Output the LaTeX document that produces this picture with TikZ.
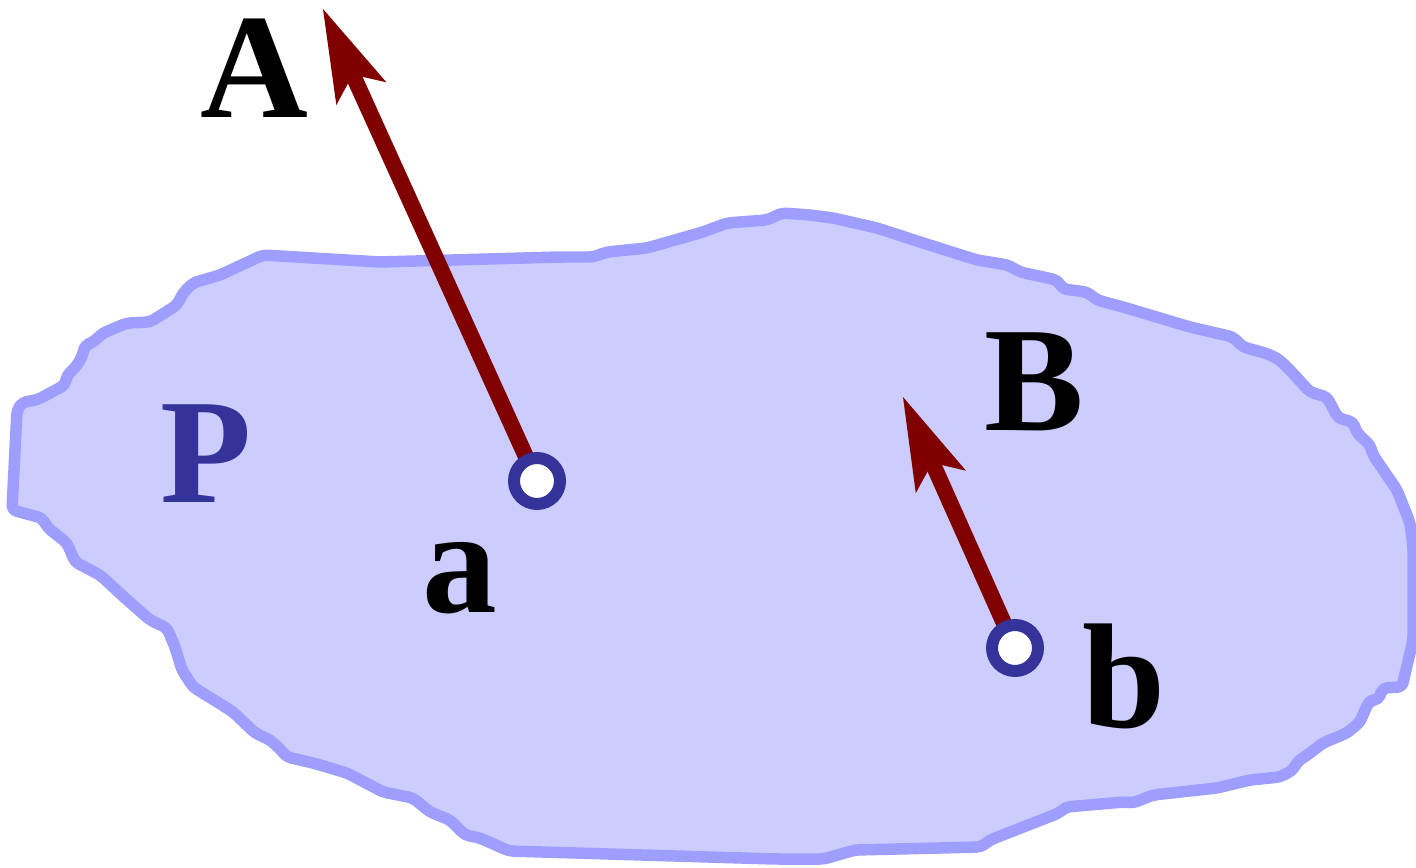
\documentclass[tikz,border=0pt]{standalone}
\usepackage{fontspec}
\setmainfont{Liberation Serif}
\usetikzlibrary{arrows.meta}
\definecolor{blobfill}{HTML}{CCCCFF}
\definecolor{blobline}{HTML}{9E9EFF}
\definecolor{vecred}{HTML}{800000}
\definecolor{ringblue}{HTML}{333399}
\tikzset{
  blob/.style={fill=blobfill, draw=blobline, line width=0.23cm, line join=round, rounded corners=2.5pt},
  vec/.style={draw=vecred, line width=0.32cm,
    -{Stealth[length=1.86cm, width=1.1cm, inset=0.42cm, line width=0pt]}},
  ring/.style={circle, draw=ringblue, fill=white, line width=0.24cm, minimum size=0.92cm, inner sep=0pt},
  lbl/.style={anchor=base, inner sep=0pt, font=\fontsize{85}{100}\selectfont\bfseries}
}
\begin{document}
\begin{tikzpicture}[x=0.02cm, y=-0.02cm]
\useasboundingbox (0,0) rectangle (1416,868);
% plane P
\draw[blob] (263,255) -- (380,262) -- (560,257) -- (593,257) -- (607,252) -- (647,248) -- (703,232)
 -- (727,223) -- (767,220) -- (782,213) -- (810,215) -- (833,218) -- (877,228) -- (920,242) -- (977,260) -- (1008,265)
 -- (1020,272) -- (1057,280) -- (1063,289) -- (1087,292) -- (1097,300) -- (1123,307) -- (1190,327)
 -- (1233,337) -- (1243,347) -- (1265,353) -- (1277,358) -- (1287,367) -- (1310,392) -- (1327,397) -- (1338,418)
 -- (1353,422) -- (1357,433) -- (1370,445) -- (1373,455) -- (1397,490) -- (1410,523) -- (1413,547)
 -- (1413,640) -- (1402,687) -- (1383,688) -- (1378,700) -- (1370,700) -- (1365,710) -- (1360,722)
 -- (1347,733) -- (1323,743) -- (1310,753) -- (1297,762) -- (1293,770) -- (1280,777) -- (1250,780)
 -- (1217,788) -- (1153,795) -- (1133,803) -- (1124,802) -- (1066,807) -- (1059,813) -- (990,840)
 -- (981,847) -- (855,850) -- (824,859) -- (775,859) -- (509,851) -- (480,838) -- (465,835)
 -- (450,820) -- (430,812) -- (413,798) -- (383,792) -- (347,773) -- (313,763) -- (287,757)
 -- (278,747) -- (270,740) -- (255,733) -- (233,712) -- (222,705) -- (193,687) -- (182,670)
 -- (175,647) -- (167,628) -- (150,620) -- (125,598) -- (100,575) -- (75,562) -- (67,543) -- (48,528)
 -- (42,518) -- (12,510) -- (17,410) -- (23,402) -- (37,400) -- (65,385) -- (67,375) -- (75,368)
 -- (82,357) -- (85,345) -- (92,343) -- (103,333) -- (127,323) -- (150,322) -- (177,305)
 -- (183,293) -- (193,283) -- (220,275) -- cycle;
% points and vectors
\coordinate (ca) at (537,481);
\coordinate (cb) at (1015,648);
\coordinate (tipA) at (323,9);
\coordinate (tipB) at (903,397);
\draw[vec] (ca) -- (tipA);
\draw[vec] (cb) -- (tipB);
\node[ring] (a) at (ca) {};
\node[ring] (b) at (cb) {};
% labels
\node[lbl] (labA) at (254,118) {A};
\node[lbl] (labB) at (1034,430) {B};
\node[lbl, text=ringblue] (labP) at (206,502) {P};
\node[lbl] (laba) at (460,612) {a};
\node[lbl] (labb) at (1124,727) {b};
\end{tikzpicture}
\end{document}
